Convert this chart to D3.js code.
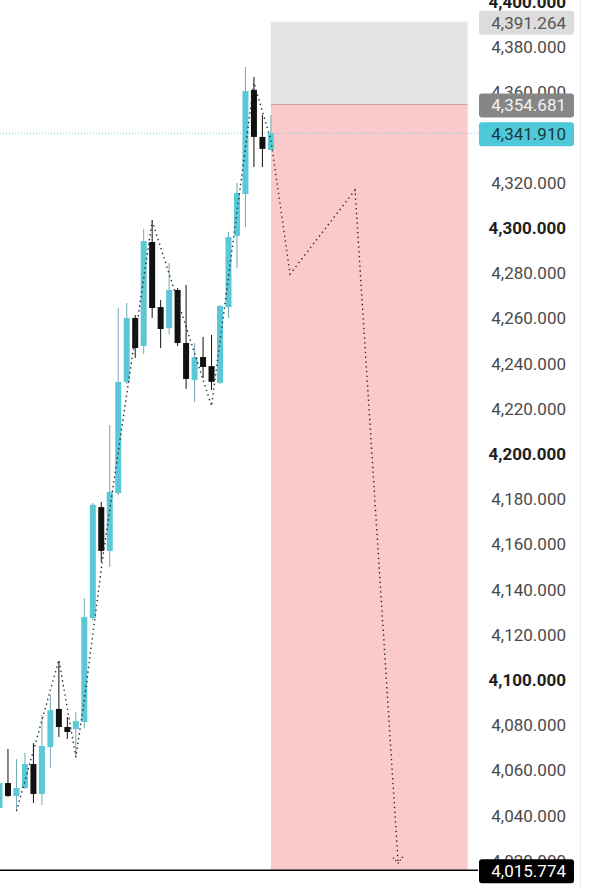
<!DOCTYPE html>
<html>
<head>
<meta charset="utf-8">
<script src="https://cdn.jsdelivr.net/npm/d3@7"></script>
<style>
  body { margin: 0; background: #fff; }
  svg { display: block; font-family: Roboto, "Noto Sans", sans-serif; }
</style>
</head>
<body>
<svg id="chart" width="595" height="888"></svg>
<script>
// candle data, one entry per bar (oldest first)
const candleOpen = [4043.4, 4054.4, 4048.7, 4052.2, 4062.8, 4049.6, 4070.3, 4087.2, 4079.2, 4078.3,
  4081.4, 4127.4, 4176.5, 4157.1, 4182.7, 4231.9, 4260.2, 4247.8, 4293.8, 4265.0,
  4255.7, 4272.6, 4249.1, 4232.7, 4242.9, 4238.9, 4231.4, 4265.0, 4296.5, 4315.0,
  4361.1, 4340.3, 4334.5];
const candleHigh = [4055.8, 4069.5, 4065.0, 4067.7, 4072.1, 4084.5, 4093.4, 4108.0, 4083.6, 4085.8,
  4136.3, 4178.3, 4178.8, 4212.8, 4264.6, 4266.8, 4261.5, 4299.6, 4303.5, 4268.1,
  4284.5, 4273.5, 4274.8, 4249.1, 4251.8, 4252.7, 4265.9, 4298.2, 4319.9, 4371.2,
  4366.8, 4350.0, 4350.0];
const candleLow = [4041.6, 4048.2, 4042.5, 4051.8, 4045.6, 4044.7, 4061.1, 4074.8, 4073.9, 4065.9,
  4078.7, 4126.5, 4152.2, 4150.0, 4181.9, 4231.0, 4242.5, 4244.2, 4260.2, 4246.9,
  4252.7, 4247.8, 4228.8, 4223.0, 4233.6, 4228.3, 4231.0, 4260.2, 4282.3, 4300.4,
  4327.0, 4327.0, 4334.5];
const candleClose = [4054.4, 4048.7, 4052.2, 4062.8, 4049.6, 4070.8, 4086.7, 4079.2, 4077.0, 4081.8,
  4127.9, 4177.5, 4157.1, 4183.2, 4231.9, 4260.2, 4246.9, 4294.2, 4264.6, 4255.3,
  4272.6, 4249.1, 4233.2, 4242.9, 4238.5, 4231.9, 4265.5, 4296.0, 4315.5, 4360.6,
  4340.3, 4335.0, 4341.91];

// dotted zigzag / projection path (bar index, price)
const zigIndex = [2, 7, 9, 10, 12.2, 18, 25, 30, 32, 34.26, 41.92, 47.0];
const zigPrice = [4042.0, 4108.9, 4065.9, 4091.1, 4154.9, 4303.1, 4221.2, 4364.2, 4338.9, 4279.6, 4316.8, 4019.0];

// position tool levels
const stopLevel = 4391.264;
const entryLevel = 4354.681;
const lastPrice = 4341.91;
const targetLevel = 4015.774;
const boxStartIndex = 32;
const boxEndIndex = 55.2;

const yTicks = [4020, 4040, 4060, 4080, 4100, 4120, 4140, 4160, 4180, 4200,
  4220, 4240, 4260, 4280, 4300, 4320, 4340, 4360, 4380, 4400];

const svg = d3.select("#chart");
const plotRight = 478;

const x = d3.scaleLinear().domain([0, 32]).range([-0.5, 270.9]);
const y = d3.scaleLinear().domain([4020, 4400]).range([860.8, 2]);
const fmt = d3.format(",.3f");

const upColor = "#5bc8d7";
const downColor = "#111";

// stop (gray) and target (pink) zones
svg.append("rect")
  .attr("x", x(boxStartIndex))
  .attr("y", y(stopLevel))
  .attr("width", x(boxEndIndex) - x(boxStartIndex))
  .attr("height", y(entryLevel) - y(stopLevel))
  .attr("fill", "#e5e5e5");

svg.append("rect")
  .attr("x", x(boxStartIndex))
  .attr("y", y(entryLevel))
  .attr("width", x(boxEndIndex) - x(boxStartIndex))
  .attr("height", y(targetLevel) - y(entryLevel))
  .attr("fill", "#f9c9cc");

svg.append("line")
  .attr("x1", x(boxStartIndex))
  .attr("x2", x(boxEndIndex))
  .attr("y1", y(entryLevel))
  .attr("y2", y(entryLevel))
  .attr("stroke", "#c4a0a3")
  .attr("stroke-width", 1);

// last price line
svg.append("line")
  .attr("x1", 0)
  .attr("x2", plotRight)
  .attr("y1", y(lastPrice))
  .attr("y2", y(lastPrice))
  .attr("stroke", "#6fd3df")
  .attr("stroke-width", 1)
  .attr("stroke-dasharray", "1,2");

// candles
const bars = d3.range(candleOpen.length).map(i => ({
  i: i,
  o: candleOpen[i],
  h: candleHigh[i],
  l: candleLow[i],
  c: candleClose[i]
}));

const candles = svg.append("g").selectAll("g").data(bars).join("g");

candles.append("line")
  .attr("x1", d => x(d.i))
  .attr("x2", d => x(d.i))
  .attr("y1", d => y(d.h))
  .attr("y2", d => y(d.l))
  .attr("stroke", d => (d.c >= d.o ? "#6fa9b2" : downColor))
  .attr("stroke-width", 1);

candles.append("rect")
  .attr("x", d => x(d.i) - 3)
  .attr("width", 6)
  .attr("y", d => y(Math.max(d.o, d.c)))
  .attr("height", d => Math.max(1, Math.abs(y(d.o) - y(d.c))))
  .attr("fill", d => (d.c >= d.o ? upColor : downColor));

// zigzag dotted path with arrow
svg.append("defs")
  .append("marker")
  .attr("id", "arrow")
  .attr("viewBox", "-8 -6 10 12")
  .attr("markerWidth", 10)
  .attr("markerHeight", 12)
  .attr("markerUnits", "userSpaceOnUse")
  .attr("orient", "auto")
  .append("path")
  .attr("d", "M-6,-5 L0,0 L-6,5")
  .attr("fill", "none")
  .attr("stroke", "#333")
  .attr("stroke-width", 1.3)
  .attr("stroke-dasharray", "1.3,2.2");

const zigLine = d3.line()
  .x(d => x(d[0]))
  .y(d => y(d[1]));

svg.append("path")
  .datum(zigIndex.map((v, i) => [v, zigPrice[i]]))
  .attr("d", zigLine)
  .attr("fill", "none")
  .attr("stroke", "#2b2b2b")
  .attr("stroke-width", 1.4)
  .attr("stroke-dasharray", "1.4,3.4")
  .attr("marker-end", "url(#arrow)");

// target line along the bottom
svg.append("line")
  .attr("x1", 0)
  .attr("x2", plotRight)
  .attr("y1", y(targetLevel))
  .attr("y2", y(targetLevel))
  .attr("stroke", "#000")
  .attr("stroke-width", 1.5);

// price scale
svg.append("line")
  .attr("x1", 580.5)
  .attr("x2", 580.5)
  .attr("y1", 0)
  .attr("y2", 888)
  .attr("stroke", "#eeeeee");

const axis = svg.append("g")
  .attr("transform", "translate(566,0)")
  .call(d3.axisRight(y).tickValues(yTicks).tickFormat(fmt).tickSize(0).tickPadding(0));

axis.select(".domain").remove();
axis.selectAll("text")
  .attr("text-anchor", "end")
  .attr("font-size", 17)
  .attr("font-family", "Roboto, sans-serif")
  .attr("font-weight", d => (d % 100 === 0 ? "bold" : "normal"))
  .attr("fill", d => (d % 100 === 0 ? "#1e1e1e" : "#4a4a4a"));

// level labels on the price scale
const labels = [
  { v: stopLevel, bg: "#dcdcdc", fg: "#555" },
  { v: entryLevel, bg: "#868686", fg: "#f2f2f2" },
  { v: lastPrice, bg: "#4fc8d9", fg: "#173a40" },
  { v: targetLevel, bg: "#000", fg: "#fff" }
];

const tags = svg.append("g").selectAll("g").data(labels).join("g")
  .attr("transform", d => "translate(0," + (y(d.v) + 1) + ")");

tags.append("rect")
  .attr("x", 479)
  .attr("y", -12)
  .attr("width", 95)
  .attr("height", 24)
  .attr("rx", 3)
  .attr("fill", d => d.bg);

tags.append("text")
  .attr("x", 566)
  .attr("dy", "0.35em")
  .attr("text-anchor", "end")
  .attr("font-size", 17)
  .attr("fill", d => d.fg)
  .text(d => fmt(d.v));
</script>
</body>
</html>
